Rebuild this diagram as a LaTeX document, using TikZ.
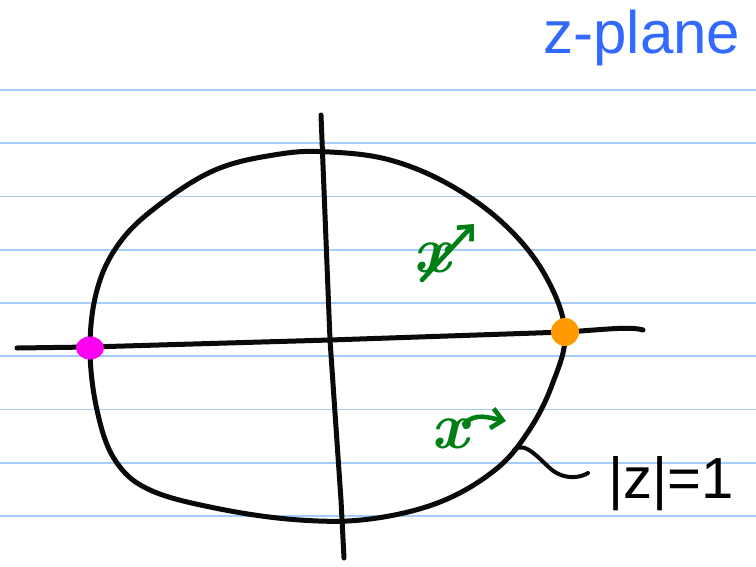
\documentclass[tikz,border=0pt]{standalone}
\usepackage{fontspec}
\setsansfont{Liberation Sans}
\usetikzlibrary{arrows.meta,shapes.geometric}
\definecolor{rule}{RGB}{165,205,250}
\definecolor{pen}{RGB}{10,10,10}
\definecolor{zblue}{RGB}{50,105,255}
\definecolor{xgreen}{RGB}{0,128,20}
\definecolor{dotmag}{RGB}{255,0,240}
\definecolor{dotorange}{RGB}{255,155,0}
\tikzset{
  ruled/.style={rule, line width=1.8pt},
  ink/.style={pen, line width=5pt, line cap=round, line join=round},
  greenink/.style={xgreen, line width=4.6pt, line cap=round, line join=round},
  greenarrow/.style={greenink, -{Straight Barb[length=11pt,width=20pt,line width=4.6pt]}},
  xmark/.style={xgreen, font=\rmfamily\itshape\bfseries\fontsize{66}{66}\selectfont, inner sep=0pt},
}
\begin{document}
\begin{tikzpicture}[x=1pt,y=-1pt]
\useasboundingbox (0,0) rectangle (756,566);
\fill[white] (0,0) rectangle (756,566);
% ruled lines
\foreach \k in {0,...,8} {
  \draw[ruled] (0,{90+53.25*\k}) -- (756,{90+53.25*\k});
}
% axes
\draw[ink] (17,348) -- (90,347) -- (330,340) -- (565,332) .. controls (600,330) and (630,326) .. (643,330);
\draw[ink] (321,115) -- (330,340) -- (341,500) -- (344,558);
% unit circle (hand drawn)
\draw[ink] plot[smooth cycle, tension=0.62] coordinates {
  (90,348) (97,290) (118,245) (155,208) (215,170) (280,154) (330,152) (390,160)
  (450,185) (505,225) (545,275) (565,332) (552,385) (528,432) (495,470)
  (440,502) (370,519) (300,520) (220,509) (150,490) (115,460) (97,410)};
% dots
\node[fill=dotmag, ellipse, minimum width=28pt, minimum height=23pt, inner sep=0pt] (m) at (90,348) {};
\node[fill=dotorange, circle, minimum size=28pt, inner sep=0pt] (o) at (565,332) {};
% green poles with arrows
\node[xmark] (x1) at (432,258) {x};
\coordinate (a1) at (474,224);
\draw[greenarrow] (422,280) -- (a1);
\node[xmark] (x2) at (450,434) {x};
\coordinate (a2) at (506,421);
\draw[greenarrow] (464,424) .. controls (475,412) and (490,418) .. (a2);
% label |z|=1
\coordinate (c) at (514,450);
\node[font=\sffamily\fontsize{58}{58}\selectfont, anchor=west, inner sep=0pt] (lab) at (608,484) {|z|=1};
\draw[ink, line width=4pt] (c) .. controls (525,440) and (540,460) .. (552,470) .. controls (565,480) and (580,478) .. (588,473);
% z-plane label
\node[zblue, font=\sffamily\fontsize{60}{60}\selectfont, inner sep=0pt] (zp) at (642,38) {z-plane};
\end{tikzpicture}
\end{document}
